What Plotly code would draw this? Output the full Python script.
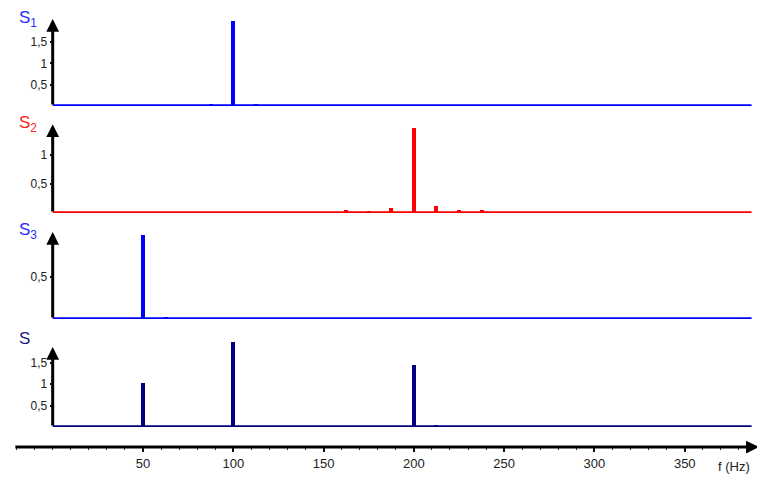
import plotly.graph_objects as go

# ---- data ----
f_s1 = [87.5, 100, 112.5]
a_s1 = [0.05, 2.0, 0.05]

f_s2 = [162.5, 175, 187.5, 200, 212.5, 225, 237.5]
a_s2 = [0.05, 0.04, 0.09, 1.47, 0.12, 0.05, 0.05]

f_s3 = [50, 62.5]
a_s3 = [1.0, 0.02]

f_s = [50, 87.5, 100, 112.5, 200, 212.5, 237.5]
a_s = [1.02, 0.02, 1.98, 0.02, 1.44, 0.03, 0.02]

x_ticks = [50, 100, 150, 200, 250, 300, 350]
x_ticktext = ["50", "100", "150", "200", "250", "300", "350"]

panel_names = ["S<sub>1</sub>", "S<sub>2</sub>", "S<sub>3</sub>", "S"]
panel_colors = ["#0000ff", "#ff0000", "#0000ff", "#000080"]
label_colors = ["#2a2aff", "#ff1a1a", "#2a2aff", "#1a1a80"]
y_tickvals = [[0.5, 1, 1.5], [0.5, 1], [0.5], [0.5, 1, 1.5]]
y_ticktext = [["0,5", "1", "1,5"], ["0,5", "1"], ["0,5"], ["0,5", "1", "1,5"]]

# ---- layout geometry (screen px; page body has an 8 px margin) ----
OFF = 8
W, H = 765 - 2 * OFF, 483 - 2 * OFF
PL, PR, PT, PB = 10, 755, 9, 447          # plot area in screen px
ML, MR, MT, MB = PL - OFF, (OFF + W) - PR, PT - OFF, (OFF + H) - PB
X_RANGE = [-23.64, 388.9]
X_END = 387
Y0_POS = (52.7 - PL) / (PR - PL)

def fx(px):
    return (px - PL) / (PR - PL)

def fy(px):
    return (PB - px) / (PB - PT)

panels = [
    dict(base=106, top=17, ppu=42.6, tip=2.04),
    dict(base=213, top=122, ppu=58.0, tip=1.53),
    dict(base=319, top=230, ppu=84.0, tip=1.036),
    dict(base=427, top=338, ppu=43.0, tip=1.86),
]
label_y = [19, 124, 231, 338]

series = [(f_s1, a_s1), (f_s2, a_s2), (f_s3, a_s3), (f_s, a_s)]

fig = go.Figure()
layout = dict(
    width=W, height=H,
    margin=dict(l=ML, r=MR, t=MT, b=MB, pad=0),
    paper_bgcolor="white", plot_bgcolor="white",
    showlegend=False,
    font=dict(family="Liberation Sans, Arial, sans-serif", color="#222222"),
    bargap=0,
)
layout["xaxis"] = dict(
    range=X_RANGE, domain=[0, 1], anchor="free", position=0,
    showgrid=False, zeroline=False, showline=False,
    tickvals=x_ticks, ticktext=x_ticktext, ticks="outside",
    ticklen=4, tickwidth=2, tickcolor="#111111",
    tickfont=dict(size=13, color="#222222"),
    minor=dict(dtick=10, tick0=0, ticks="outside", ticklen=2, tickwidth=1, tickcolor="#333333"),
)

shapes = []
annotations = []
for i, (p, (fr, am)) in enumerate(zip(panels, series)):
    yname = "y" if i == 0 else f"y{i+1}"
    lname = "yaxis" if i == 0 else f"yaxis{i+1}"
    rmax = (p["base"] - p["top"]) / p["ppu"]
    layout[lname] = dict(
        domain=[fy(p["base"]), fy(p["top"])], range=[0, rmax],
        anchor="free", position=Y0_POS,
        showgrid=False, zeroline=False, showline=False,
        tickvals=y_tickvals[i], ticktext=y_ticktext[i],
        ticks="outside", ticklen=3, tickwidth=2, tickcolor="#111111",
        tickfont=dict(size=12, color="#222222"),
    )
    fig.add_trace(go.Bar(
        x=fr, y=am, width=2.2, xaxis="x", yaxis=yname,
        marker=dict(color=panel_colors[i], line=dict(width=0)),
        hoverinfo="x+y",
    ))
    shapes.append(dict(type="line", xref="x", yref=yname, x0=0, x1=X_END, y0=0, y1=0,
                       line=dict(color=panel_colors[i], width=3.5), layer="above"))
    annotations.append(dict(xref="x", yref=yname, axref="x", ayref=yname,
                            x=0, y=p["tip"], ax=0, ay=0, text="", showarrow=True,
                            arrowhead=2, arrowsize=0.85, arrowwidth=3, arrowcolor="#000000"))
    annotations.append(dict(xref="paper", yref="paper",
                            x=fx(17), y=fy(label_y[i]),
                            xanchor="left", yanchor="middle", showarrow=False,
                            text=panel_names[i],
                            font=dict(size=17, color=label_colors[i],
                                      family="Liberation Sans, Arial, sans-serif")))

annotations.append(dict(xref="x", yref="paper", axref="x", ayref="pixel",
                        x=391, y=0, ax=-21.5, ay=0, text="", showarrow=True,
                        arrowhead=2, arrowsize=0.85, arrowwidth=3, arrowcolor="#000000"))
annotations.append(dict(xref="paper", yref="paper", x=fx(752), y=fy(466),
                        xanchor="right", yanchor="middle", showarrow=False,
                        text="f (Hz)", font=dict(size=13, color="#222222")))

layout["shapes"] = shapes
layout["annotations"] = annotations
fig.update_layout(**layout)
fig.write_html("out.html")
